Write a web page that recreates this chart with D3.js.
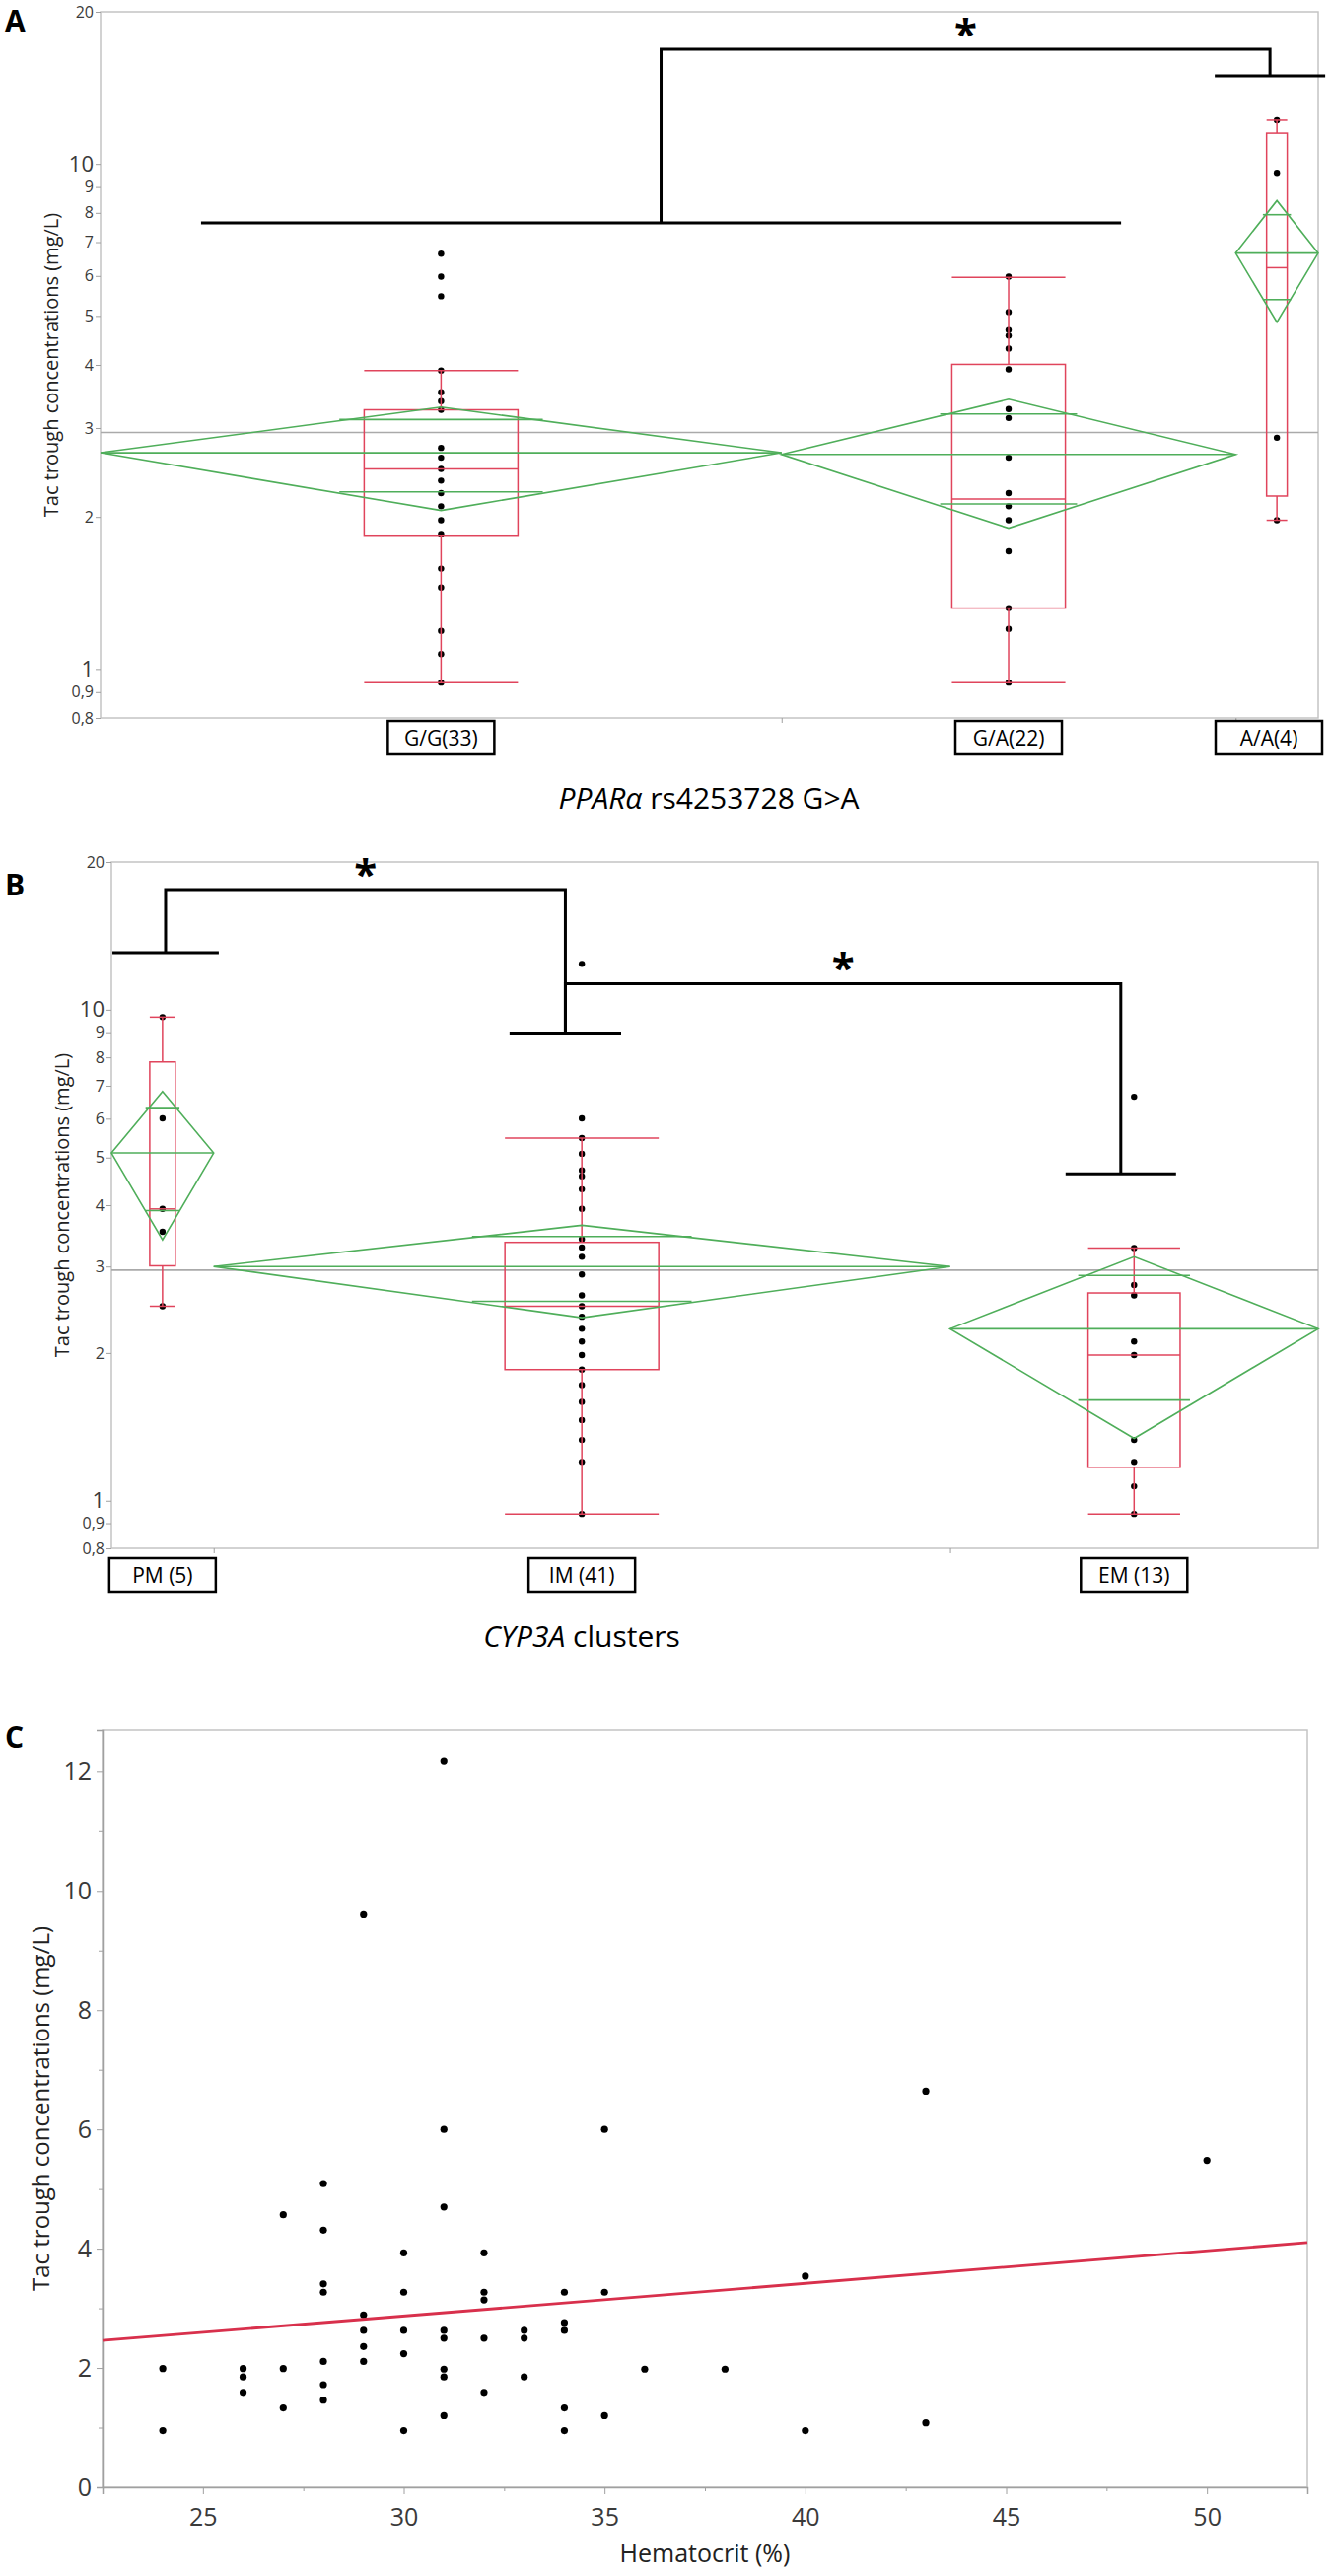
<!DOCTYPE html>
<html>
<head>
<meta charset="utf-8">
<script src="https://cdn.jsdelivr.net/npm/d3@7"></script>
<style>
  body { margin: 0; background: #fff; }
  text { font-family: 'Open Sans', 'Noto Sans', sans-serif; }
</style>
</head>
<body>
<svg id="fig" width="1350" height="2612"></svg>
<script>
// ---------- data ----------

// shared log axis of panels A and B
const logTicks = [0.8, 0.9, 1, 2, 3, 4, 5, 6, 7, 8, 9, 10, 20];
const bigTicks = [1, 10];

// A: PPARa rs4253728 genotypes
const groupsA = ['G/G(33)', 'G/A(22)', 'A/A(4)'];
const widthsA = [33, 22, 4];
const pointsA = [
    [6.64, 5.98, 5.47, 3.90, 3.53, 3.39, 3.26, 2.74, 2.62, 2.49, 2.36, 2.23, 2.10, 1.97, 1.85, 1.58, 1.45, 1.19, 1.07, 0.94],
    [5.98, 5.09, 4.69, 4.57, 4.31, 3.92, 3.27, 3.14, 2.62, 2.23, 2.10, 1.97, 1.71, 1.32, 1.20, 0.94],
    [12.2, 9.6, 2.87, 1.97]
];
const meanA = [2.68, 2.66, 6.66];
const ciA = [0.62, 0.76, 1.80];
const q1A = [1.84, 1.32, 2.20];
const medA = [2.49, 2.17, 6.23];
const q3A = [3.26, 4.01, 11.5];
const loA = [0.94, 0.94, 1.97];
const hiA = [3.90, 5.96, 12.2];
const grandMeanA = 2.94;
// bracket: [from, to, level] of each lower bar, then the level of the top bar
const bracketsA = [
    { left: [4.87, 49.45, 7.64], right: [53.99, 59.34, 14.93], top: 16.86 }
];

// B: CYP3A clusters
const groupsB = ['PM (5)', 'IM (41)', 'EM (13)'];
const widthsB = [5, 36, 18];
const pointsB = [
    [9.66, 6.01, 3.93, 3.53, 2.49],
    [12.4, 6.01, 5.48, 5.09, 4.71, 4.58, 4.31, 3.93, 3.41, 3.28, 3.14, 2.89, 2.62, 2.49, 2.37, 2.24, 2.11, 1.98, 1.85, 1.72, 1.59, 1.46, 1.33, 1.20, 0.94],
    [6.65, 3.27, 2.75, 2.62, 2.11, 1.98, 1.33, 1.20, 1.07, 0.94]
];
const meanB = [5.11, 3.00, 2.24];
const ciB = [1.71, 0.64, 0.90];
const q1B = [3.01, 1.85, 1.17];
const medB = [3.93, 2.49, 1.98];
const q3B = [7.83, 3.36, 2.65];
const loB = [2.49, 0.94, 0.94];
const hiB = [9.66, 5.48, 3.27];
const grandMeanB = 2.95;
const bracketsB = [
    { left: [0.05, 5.25, 13.07], right: [19.47, 24.92, 8.96], top: 17.57 },
    { left: [19.47, 24.92, 8.96], right: [46.65, 52.05, 4.63], top: 11.3 }
];

// C: hematocrit vs Tac trough
const hematocrit = [
    24, 24,
    26, 26, 26,
    27, 27, 27,
    28, 28, 28, 28, 28, 28, 28,
    29, 29, 29, 29, 29,
    30, 30, 30, 30, 30,
    31, 31, 31, 31, 31, 31, 31, 31,
    32, 32, 32, 32, 32,
    33, 33, 33,
    34, 34, 34, 34, 34,
    35, 35, 35,
    36, 38, 40, 40, 43, 43, 50
];
const tacTrough = [
    1.99, 0.95,
    1.99, 1.85, 1.59,
    4.57, 1.99, 1.33,
    5.09, 4.31, 3.41, 3.27, 2.11, 1.72, 1.46,
    9.60, 2.89, 2.63, 2.36, 2.11,
    3.93, 3.27, 2.63, 2.24, 0.95,
    12.17, 6.00, 4.70, 2.63, 2.50, 1.98, 1.85, 1.20,
    3.93, 3.27, 3.14, 2.50, 1.59,
    2.63, 2.50, 1.85,
    3.27, 2.76, 2.63, 1.33, 0.95,
    6.00, 3.27, 1.20,
    1.98, 1.98, 3.54, 0.95, 6.64, 1.08, 5.48
];
const fitC = { intercept: 1.23, slope: 0.0547 };
const xDomainC = [22.5, 52.5];
const yDomainC = [0, 12.7];
const xTicksC = [25, 30, 35, 40, 45, 50];
const xMinorC = [22.5, 27.5, 32.5, 37.5, 42.5, 47.5, 52.5];
const yTicksC = [0, 2, 4, 6, 8, 10, 12];
const yMinorC = [1, 3, 5, 7, 9, 11];

// ---------- drawing ----------
const RED = '#e0445c', GREEN = '#4fae5a', FRAME = '#c4c4c4', TICK = '#a0a0a0', LABEL = '#3a3a3a';
const FONT = "'Open Sans', 'Noto Sans', sans-serif";
const BOLD = "'Liberation Sans', Arial, sans-serif";

const svg = d3.select('#fig');
svg.append('rect').attr('width', 1350).attr('height', 2612).attr('fill', '#fff');

function drawBoxPanel(p) {
    const y = d3.scaleLog().domain([0.8, 20]).range([p.bottom, p.top]);
    const edges = [0].concat(Array.from(d3.cumsum(p.widths)));
    const x = d3.scaleLinear().domain([0, edges[edges.length - 1]]).range([p.left, p.right]);
    const g = svg.append('g');

    // frame
    g.append('rect')
        .attr('x', p.left).attr('y', p.top)
        .attr('width', p.right - p.left).attr('height', p.bottom - p.top)
        .attr('fill', 'none').attr('stroke', FRAME).attr('stroke-width', 1.5);

    // y axis, comma decimals like the original
    const ay = g.append('g').attr('transform', `translate(${p.left},0)`)
        .call(d3.axisLeft(y).tickValues(logTicks).tickSize(5).tickPadding(2)
            .tickFormat(d => String(d).replace('.', ',')));
    ay.attr('font-family', FONT);
    ay.select('.domain').remove();
    ay.selectAll('line').attr('stroke', TICK);
    ay.selectAll('text').attr('fill', LABEL)
        .attr('font-size', d => bigTicks.includes(d) ? 22 : 16);

    // small ticks between groups
    const ax = g.append('g').attr('transform', `translate(0,${p.bottom})`)
        .call(d3.axisBottom(x).tickValues(edges.slice(1, -1)).tickSize(5).tickFormat(''));
    ax.select('.domain').remove();
    ax.selectAll('line').attr('stroke', TICK);

    // grand mean
    g.append('line')
        .attr('x1', p.left).attr('x2', p.right)
        .attr('y1', y(p.grand)).attr('y2', y(p.grand))
        .attr('stroke', '#aaaaaa').attr('stroke-width', 1.6);

    p.groups.forEach((name, i) => {
        const gl = x(edges[i]), gr = x(edges[i + 1]);
        const cx = (gl + gr) / 2, half = (gr - gl) / 2;
        const bw = Math.min(0.25 * (gr - gl), 156);

        // points
        g.append('g').selectAll('circle')
            .data(p.points[i])
            .join('circle')
            .attr('cx', cx).attr('cy', d => y(d)).attr('r', 3.2)
            .attr('fill', '#000');

        // box plot
        const box = g.append('g').attr('stroke', RED).attr('stroke-width', 1.5).attr('fill', 'none');
        box.append('rect')
            .attr('x', cx - bw / 2).attr('width', bw)
            .attr('y', y(p.q3[i])).attr('height', y(p.q1[i]) - y(p.q3[i]));
        [p.med[i], p.lo[i], p.hi[i]].forEach(v => {
            box.append('line').attr('x1', cx - bw / 2).attr('x2', cx + bw / 2)
                .attr('y1', y(v)).attr('y2', y(v));
        });
        box.append('line').attr('x1', cx).attr('x2', cx).attr('y1', y(p.q3[i])).attr('y2', y(p.hi[i]));
        box.append('line').attr('x1', cx).attr('x2', cx).attr('y1', y(p.q1[i])).attr('y2', y(p.lo[i]));

        // means diamond with overlap marks
        const m = p.mean[i], c = p.ci[i];
        const dia = g.append('g').attr('stroke', GREEN).attr('stroke-width', 1.6).attr('fill', 'none');
        dia.append('path')
            .attr('d', d3.line()([[gl, y(m)], [cx, y(m + c)], [gr, y(m)], [cx, y(m - c)]]) + 'Z');
        dia.append('line').attr('x1', gl).attr('x2', gr).attr('y1', y(m)).attr('y2', y(m));
        const k = Math.SQRT1_2, dx = half * (1 - k) + 2;
        [m + c * k, m - c * k].forEach(v => {
            dia.append('line').attr('x1', cx - dx).attr('x2', cx + dx)
                .attr('y1', y(v)).attr('y2', y(v));
        });

        // boxed category label
        const lw = 108, lh = 34;
        let lx = cx - lw / 2;
        lx = Math.min(Math.max(lx, p.left - 4), p.right + 4 - lw);
        const ly = p.bottom + p.labelGap;
        g.append('rect').attr('x', lx).attr('y', ly).attr('width', lw).attr('height', lh)
            .attr('fill', '#fff').attr('stroke', '#000').attr('stroke-width', 2.5);
        g.append('text').attr('x', lx + lw / 2).attr('y', ly + lh / 2)
            .attr('text-anchor', 'middle').attr('dominant-baseline', 'central')
            .attr('font-size', 21).attr('fill', '#000').text(name);
    });

    // significance brackets
    p.brackets.forEach(b => {
        const ml = x((b.left[0] + b.left[1]) / 2), mr = x((b.right[0] + b.right[1]) / 2);
        const yt = y(b.top);
        const path = d3.path();
        path.moveTo(x(b.left[0]), y(b.left[2])); path.lineTo(x(b.left[1]), y(b.left[2]));
        path.moveTo(x(b.right[0]), y(b.right[2])); path.lineTo(x(b.right[1]), y(b.right[2]));
        path.moveTo(ml, y(b.left[2])); path.lineTo(ml, yt); path.lineTo(mr, yt); path.lineTo(mr, y(b.right[2]));
        g.append('path').attr('d', path.toString())
            .attr('fill', 'none').attr('stroke', '#000').attr('stroke-width', 3);
        g.append('text').attr('x', (ml + mr) / 2).attr('y', yt - 1)
            .attr('text-anchor', 'middle').attr('font-family', BOLD).attr('font-weight', 'bold')
            .attr('font-size', 42).attr('fill', '#000').text('*');
    });

    // y title
    g.append('text')
        .attr('transform', `translate(${p.left - 51},${(p.top + p.bottom) / 2}) rotate(-90)`)
        .attr('text-anchor', 'middle').attr('dominant-baseline', 'central')
        .attr('font-size', 20).attr('fill', '#222').text('Tac trough concentrations (mg/L)');

    // x title, gene name in italics
    const t = g.append('text').attr('x', p.titleX).attr('y', p.titleY)
        .attr('text-anchor', 'middle').attr('font-size', 30).attr('fill', '#000');
    t.append('tspan').attr('font-style', 'italic').text(p.gene);
    t.append('tspan').text(p.rest);

    // panel letter
    g.append('text').attr('x', 5).attr('y', p.letterY)
        .attr('font-family', BOLD).attr('font-weight', 'bold').attr('font-size', 30)
        .text(p.letter);
}

drawBoxPanel({
    left: 102, right: 1337, top: 12, bottom: 728, labelGap: 3,
    groups: groupsA, widths: widthsA, points: pointsA,
    mean: meanA, ci: ciA, q1: q1A, med: medA, q3: q3A, lo: loA, hi: hiA,
    grand: grandMeanA, brackets: bracketsA,
    gene: 'PPARα', rest: ' rs4253728 G>A', titleX: 719, titleY: 820,
    letter: 'A', letterY: 32
});

drawBoxPanel({
    left: 113, right: 1337, top: 874, bottom: 1570, labelGap: 10,
    groups: groupsB, widths: widthsB, points: pointsB,
    mean: meanB, ci: ciB, q1: q1B, med: medB, q3: q3B, lo: loB, hi: hiB,
    grand: grandMeanB, brackets: bracketsB,
    gene: 'CYP3A', rest: ' clusters', titleX: 590, titleY: 1670,
    letter: 'B', letterY: 908
});

// ---------- panel C ----------
(function () {
    const p = { left: 104, right: 1326, top: 1754, bottom: 2522 };
    const x = d3.scaleLinear().domain(xDomainC).range([p.left, p.right]);
    const y = d3.scaleLinear().domain(yDomainC).range([p.bottom, p.top]);
    const g = svg.append('g');

    g.append('rect')
        .attr('x', p.left).attr('y', p.top)
        .attr('width', p.right - p.left).attr('height', p.bottom - p.top)
        .attr('fill', 'none').attr('stroke', FRAME).attr('stroke-width', 1.5);

    const ax = g.append('g').attr('transform', `translate(0,${p.bottom})`)
        .call(d3.axisBottom(x).tickValues(xTicksC).tickSize(7).tickPadding(14));
    ax.attr('font-family', FONT);
    ax.select('.domain').attr('stroke', TICK).attr('stroke-width', 1.5);
    ax.selectAll('line').attr('stroke', TICK);
    ax.selectAll('text').attr('fill', LABEL).attr('font-size', 25);
    g.append('g').attr('transform', `translate(0,${p.bottom})`)
        .call(d3.axisBottom(x).tickValues(xMinorC).tickSize(4).tickFormat(''))
        .call(s => s.select('.domain').remove())
        .selectAll('line').attr('stroke', TICK);

    const ay = g.append('g').attr('transform', `translate(${p.left},0)`)
        .call(d3.axisLeft(y).tickValues(yTicksC).tickSize(6).tickPadding(5));
    ay.attr('font-family', FONT);
    ay.select('.domain').attr('stroke', TICK).attr('stroke-width', 1.5);
    ay.selectAll('line').attr('stroke', TICK);
    ay.selectAll('text').attr('fill', LABEL).attr('font-size', 25);
    g.append('g').attr('transform', `translate(${p.left},0)`)
        .call(d3.axisLeft(y).tickValues(yMinorC).tickSize(4).tickFormat(''))
        .call(s => s.select('.domain').remove())
        .selectAll('line').attr('stroke', TICK);

    // points
    g.append('g').selectAll('circle')
        .data(hematocrit.map((h, i) => [h, tacTrough[i]]))
        .join('circle')
        .attr('cx', d => x(d[0])).attr('cy', d => y(d[1])).attr('r', 3.6)
        .attr('fill', '#000');

    // linear fit
    const fit = xDomainC.map(h => [h, fitC.intercept + fitC.slope * h]);
    g.append('path')
        .attr('d', d3.line().x(d => x(d[0])).y(d => y(d[1]))(fit))
        .attr('stroke', '#d8304c').attr('stroke-width', 2.8).attr('fill', 'none');

    g.append('text')
        .attr('transform', `translate(40,${(p.top + p.bottom) / 2}) rotate(-90)`)
        .attr('text-anchor', 'middle').attr('dominant-baseline', 'central')
        .attr('font-size', 24).attr('fill', '#222').text('Tac trough concentrations (mg/L)');

    g.append('text').attr('x', (p.left + p.right) / 2).attr('y', 2598)
        .attr('text-anchor', 'middle').attr('font-size', 25).attr('fill', '#222')
        .text('Hematocrit (%)');

    g.append('text').attr('x', 5).attr('y', p.top + 18)
        .attr('font-family', BOLD).attr('font-weight', 'bold').attr('font-size', 30)
        .text('C');
})();
</script>
</body>
</html>
